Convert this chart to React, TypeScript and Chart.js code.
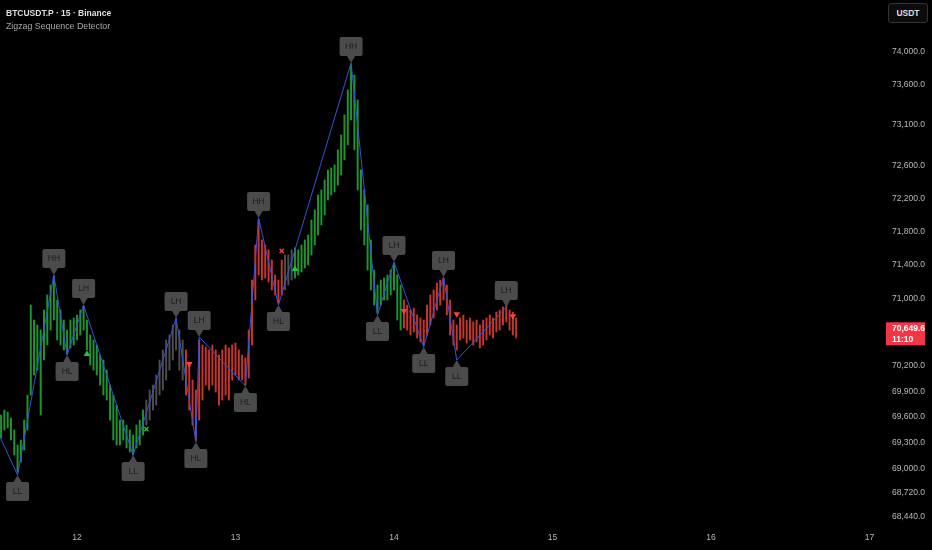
import { useEffect, useRef } from "react";
import { Chart, registerables } from "chart.js";
Chart.register(...registerables);

// half-hour candles, times are hours counted from day 11 00:00
const firstCandleHour = 12.5;
const candleStepHours = 0.5;

const highs = [
  69621, 69680, 69657, 69586, 69447, 69272, 69330, 69563, 69856, 70920,
  70742, 70683, 70623, 70861, 71040, 71159, 71267, 70980, 70861, 70742,
  70623, 70742, 70766, 70802, 70861, 70908, 70742, 70564, 70505, 70446,
  70327, 70268, 70150, 69973, 69856, 69738, 69563, 69563, 69505, 69447,
  69388, 69505, 69563, 69680, 69797, 69915, 69973, 70091, 70268, 70387,
  70505, 70564, 70683, 70766, 70623, 70505, 70387, 70209, 70032, 69915,
  70505, 70446, 70422, 70387, 70446, 70387, 70327, 70387, 70446, 70410,
  70446, 70469, 70387, 70327, 70292, 70623, 71219, 71640, 71941, 71700,
  71640, 71580, 71459, 71279, 71219, 71459, 71519, 71519, 71580, 71604,
  71580, 71640, 71700, 71760, 71941, 72062, 72244, 72305, 72426, 72548,
  72572, 72609, 72793, 72976, 73222, 73530, 73839, 73715, 73406, 72548,
  72305, 72123, 71700, 71339, 71159, 71219, 71243, 71279, 71339, 71423,
  71279, 71159, 70980, 70920, 70861, 70885, 70802, 70766, 70742, 70920,
  71040, 71100, 71183, 71219, 71243, 71159, 70980, 70742, 70683, 70766,
  70802, 70742, 70766, 70718, 70742, 70683, 70742, 70766, 70802, 70766,
  70837, 70861, 70897, 70920, 70861, 70837, 70766,
];
const lows = [
  69353, 69447, 69470, 69330, 69156, 68958, 69074, 69214, 69447, 69856,
  70091, 70150, 69621, 70268, 70446, 70623, 70742, 70505, 70446, 70387,
  70339, 70410, 70446, 70505, 70564, 70623, 70387, 70209, 70150, 70091,
  69973, 69856, 69797, 69563, 69330, 69272, 69272, 69330, 69237, 69190,
  69156, 69237, 69272, 69388, 69505, 69563, 69680, 69738, 69856, 69915,
  70032, 70150, 70268, 70387, 70150, 70032, 69856, 69680, 69505, 69330,
  69563, 69797, 69973, 69915, 69973, 69891, 69738, 69797, 69856, 69797,
  70032, 70091, 70032, 70032, 69973, 70056, 70446, 70980, 71279, 71219,
  71243, 71195, 71100, 71040, 70944, 71040, 71100, 71159, 71219, 71243,
  71279, 71315, 71363, 71399, 71519, 71640, 71760, 71881, 72002, 72183,
  72244, 72280, 72365, 72487, 72670, 72854, 73160, 72793, 72305, 71820,
  71640, 71339, 71100, 70920, 70825, 70920, 70980, 70980, 71040, 71100,
  70742, 70623, 70647, 70623, 70564, 70600, 70529, 70481, 70446, 70564,
  70683, 70766, 70861, 70920, 70980, 70802, 70564, 70446, 70387, 70505,
  70529, 70469, 70505, 70446, 70481, 70410, 70446, 70505, 70564, 70529,
  70600, 70623, 70683, 70718, 70623, 70564, 70529,
];

// bar colouring state of the indicator
const trendStarts = [0, 34.5, 40.5, 55.5, 57, 73.5];
const trendKinds = ["up", "flat", "down", "flat", "up", "down"];

const pivotHours = [11, 15, 20.5, 22.5, 25, 32.5, 39, 42, 42.5, 49.5, 51.5, 54.5, 65.5, 69.5, 72, 76.5, 79.5, 81.5, 89];
const pivotPrices = [69590, 68923, 71279, 70327, 70920, 69155, 70766, 69307, 70541, 69962, 71965, 70920, 73864, 70802, 71435, 70422, 71255, 70268, 70897];
const pivotTags = ["", "LL", "HH", "HL", "LH", "LL", "LH", "HL", "LH", "HL", "HH", "HL", "HH", "LL", "LH", "LL", "LH", "LL", "LH"];

const signalHours = [25.5, 34.5, 41, 55, 57, 73.5, 81.5, 90];
const signalPrices = [70339, 69458, 70221, 71567, 71350, 70849, 70813, 70789];
const signalKinds = ["up", "exitUp", "down", "exitDown", "up", "down", "down", "down"];

const priceTicks = [68440, 68720, 69000, 69300, 69600, 69900, 70200, 71000, 71400, 71800, 72200, 72600, 73100, 73600, 74000];
const dayTicks = [24, 48, 72, 96, 120, 144];
const dayLabels = ["12", "13", "14", "15", "16", "17"];

const lastPrice = 70649.6;
const countdown = "11:10";

const trendColor: Record<string, string> = { up: "#1c9632", flat: "#4d4d4d", down: "#c8342e" };
const FONT = "'Liberation Sans', Arial, sans-serif";

function trendAt(hour: number) {
  let k = trendKinds[0];
  trendStarts.forEach((s, i) => {
    if (hour >= s) k = trendKinds[i];
  });
  return k;
}

const fmt = (v: number) => v.toLocaleString("en-US", { minimumFractionDigits: 1, maximumFractionDigits: 1 });

const overlayPlugin = {
  id: "overlay",
  afterDatasetsDraw(chart: any) {
    const { ctx, scales } = chart;
    const x = scales.x, y = scales.y;
    ctx.save();
    ctx.font = `8.5px ${FONT}`;
    ctx.textAlign = "center";
    ctx.textBaseline = "middle";
    pivotTags.forEach((tag, i) => {
      if (!tag) return;
      const px = x.getPixelForValue(pivotHours[i]);
      const py = y.getPixelForValue(pivotPrices[i]);
      const above = tag === "HH" || tag === "LH";
      const w = 23, h = 19, gap = 7;
      const top = above ? py - gap - h : py + gap;
      ctx.fillStyle = "#4b4b4b";
      ctx.beginPath();
      ctx.roundRect(px - w / 2, top, w, h, 2);
      ctx.fill();
      ctx.beginPath();
      const edge = above ? top + h : top;
      ctx.moveTo(px - 4, edge);
      ctx.lineTo(px, py);
      ctx.lineTo(px + 4, edge);
      ctx.closePath();
      ctx.fill();
      ctx.fillStyle = "#1c1c1c";
      ctx.fillText(tag, px, top + h / 2 + 0.5);
    });
    ctx.restore();
  },
  afterDraw(chart: any) {
    const { ctx, scales } = chart;
    const y = scales.y;
    const py = y.getPixelForValue(lastPrice);
    ctx.save();
    ctx.fillStyle = "#f23645";
    ctx.fillRect(y.left + 6, py - 5.5, 39, 23);
    ctx.fillStyle = "#ffffff";
    ctx.font = `bold 8.5px ${FONT}`;
    ctx.textAlign = "left";
    ctx.textBaseline = "middle";
    ctx.fillText(fmt(lastPrice), y.left + 12, py + 0.5);
    ctx.fillText(countdown, y.left + 12, py + 11.5);
    ctx.restore();
  },
};

export default function App() {
  const ref = useRef<HTMLCanvasElement>(null);

  useEffect(() => {
    document.body.style.margin = "0";
    document.body.style.background = "#000";
    if (!ref.current) return;

    const candles = highs.map((h, i) => ({ x: firstCandleHour + i * candleStepHours, y: [lows[i], h] }));
    const candleColors = candles.map(c => trendColor[trendAt(c.x)]);

    const chart = new Chart(ref.current, {
      type: "bar",
      data: {
        datasets: [
          {
            type: "line",
            data: pivotHours.map((h, i) => ({ x: h, y: pivotPrices[i] })),
            borderColor: "#3453d6",
            borderWidth: 1,
            pointRadius: 0,
            order: 2,
          } as any,
          {
            type: "line",
            data: signalHours.map((h, i) => ({ x: h, y: signalPrices[i] })),
            showLine: false,
            pointStyle: signalKinds.map(k => (k.startsWith("exit") ? "crossRot" : "triangle")),
            pointRotation: signalKinds.map(k => (k === "down" ? 180 : 0)),
            pointRadius: signalKinds.map(k => (k.startsWith("exit") ? 3 : 3.8)),
            pointBackgroundColor: signalKinds.map(k => (k === "up" || k === "exitUp" ? "#27c23f" : "#f0443c")),
            pointBorderColor: signalKinds.map(k => (k === "up" || k === "exitUp" ? "#27c23f" : "#f0443c")),
            pointBorderWidth: signalKinds.map(k => (k.startsWith("exit") ? 1.4 : 0)),
            order: 1,
          } as any,
          {
            type: "bar",
            data: candles as any,
            backgroundColor: candleColors,
            borderWidth: 0,
            barThickness: 1.3,
            order: 3,
          } as any,
        ],
      },
      options: {
        responsive: false,
        animation: false,
        events: [],
        layout: { padding: 0, autoPadding: false },
        plugins: { legend: { display: false }, tooltip: { enabled: false } },
        scales: {
          x: {
            type: "linear",
            min: 12.34,
            max: 145.59,
            offset: false,
            grid: { display: false, drawTicks: false },
            border: { display: false },
            afterBuildTicks: (s: any) => { s.ticks = dayTicks.map(value => ({ value })); },
            afterFit: (s: any) => { s.height = 22; s.paddingLeft = 0; s.paddingRight = 0; },
            ticks: {
              autoSkip: false,
              maxRotation: 0,
              padding: 5,
              color: "#b8b8b8",
              font: { size: 8.5, family: FONT },
              callback: (v: any) => dayLabels[dayTicks.indexOf(Number(v))] ?? "",
            },
          },
          y: {
            type: "logarithmic",
            position: "right",
            min: 68313,
            max: 74649,
            grid: { display: false, drawTicks: false },
            border: { display: false },
            afterBuildTicks: (s: any) => { s.ticks = priceTicks.map(value => ({ value })); },
            afterFit: (s: any) => { s.width = 52; s.paddingTop = 0; s.paddingBottom = 0; },
            ticks: {
              autoSkip: false,
              padding: 12,
              color: "#b8b8b8",
              font: { size: 8.5, family: FONT },
              callback: (v: any) => fmt(Number(v)),
            },
          },
        },
      },
      plugins: [overlayPlugin],
    });

    return () => chart.destroy();
  }, []);

  return (
    <div style={{ position: "relative", width: 932, height: 550, background: "#000", overflow: "hidden" }}>
      <canvas ref={ref} width={932} height={550} style={{ display: "block" }} />
      <div style={{ position: "absolute", left: 6, top: 7, fontFamily: FONT, lineHeight: "13px" }}>
        <div style={{ fontSize: 8.5, fontWeight: "bold", color: "#dedede" }}>BTCUSDT.P · 15 · Binance</div>
        <div style={{ fontSize: 8.8, color: "#a9a9a9" }}>Zigzag Sequence Detector</div>
      </div>
      <div
        style={{
          position: "absolute", left: 888, top: 3, width: 38, height: 18,
          border: "1px solid #353535", borderRadius: 3, background: "#0c0c0c",
          color: "#dddddd", fontFamily: FONT, fontSize: 8.5, fontWeight: "bold",
          display: "flex", alignItems: "center", justifyContent: "center",
        }}
      >
        USDT
      </div>
    </div>
  );
}
